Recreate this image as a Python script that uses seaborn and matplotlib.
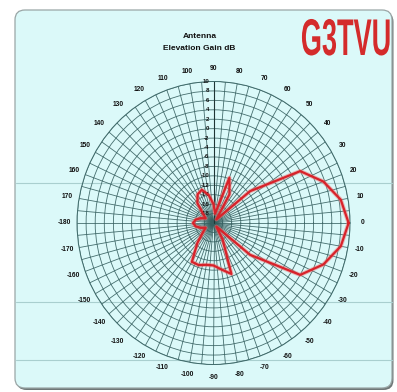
import numpy as np
import pandas as pd
import matplotlib
matplotlib.use("Agg")
import matplotlib.pyplot as plt
import seaborn as sns
from matplotlib.patches import FancyBboxPatch
from matplotlib import patheffects
from matplotlib.transforms import Affine2D
from matplotlib.lines import Line2D

# Elevation angle (deg) and antenna gain (dB)
elevation_deg = [0, 10, 20, 30, 40, 50, 60, 70, 80, 90, 100, 110, 120, 130, 140, 150, 160, 170, 180,
                 -170, -160, -150, -140, -130, -120, -110, -100, -90, -80, -70, -60, -50, -40, -30, -20, -10]
gain_db = [9.7, 8.4, 5.7, 2.0, -9.5, -19.0, -13.0, -9.8, -18.0, -16.0, -14.0, -12.5, -13.0, -14.5, -17.0, -18.0, -17.0, -16.0, -15.5,
           -16.0, -17.0, -18.0, -17.0, -14.5, -10.5, -10.5, -11.0, -11.0, -10.0, -8.5, -16.0, -19.0, -9.5, 2.0, 5.7, 8.4]

# Axis annotations
angle_ticks = list(range(-170, 181, 10))
gain_ticks = list(range(10, -20, -2))
title_lines = ["Antenna", "Elevation Gain dB"]
logo_text = "G3TVU"

W, H = 397, 392
sns.set_style("white")
fig = plt.figure(figsize=(W / 100, H / 100), dpi=100)
fig.patch.set_facecolor("white")


def fx(px):
    return px / W


def fy(py):
    return 1 - py / H


# Rounded panel with a soft shadow
shadow = FancyBboxPatch((fx(16.5), fy(390)), fx(393.5) - fx(16.5), fy(12) - fy(390),
                        boxstyle="round,pad=0,rounding_size=0.025", transform=fig.transFigure,
                        facecolor="#6f7777", edgecolor="none", zorder=-3)
panel = FancyBboxPatch((fx(15), fy(388)), fx(392) - fx(15), fy(10) - fy(388),
                       boxstyle="round,pad=0,rounding_size=0.025", transform=fig.transFigure,
                       facecolor="#dbf9f9", edgecolor="#9aa6a6", linewidth=0.9, zorder=-2)
fig.patches.extend([shadow, panel])

for py in [183, 302, 360]:
    fig.add_artist(Line2D([fx(16), fx(392)], [fy(py), fy(py)], transform=fig.transFigure,
                          color="#a9cfcf", linewidth=0.8, zorder=-1))

# Polar grid (slightly elliptical, as drawn)
cx, cy, rx, ry = 213.5, 223.0, 136.5, 141.5
ax = fig.add_axes([fx(cx - rx), fy(cy + ry), 2 * rx / W, 2 * ry / H], projection="polar")
ax.set_zorder(2)
ax.set_aspect("auto")
ax.set_facecolor("none")
ax.set_ylim(-20, 10)
ax.set_xticks(np.deg2rad(np.arange(0, 360, 5)))
ax.set_xticklabels([])
ax.set_yticks(np.arange(-20, 11, 2))
ax.set_yticklabels([])
ax.grid(True, color="#355f5f", linewidth=0.6, alpha=0.9)
ax.spines["polar"].set_color("#3f6a6a")
ax.spines["polar"].set_linewidth(0.7)
ax.tick_params(length=0, pad=0)
ax.plot([np.pi / 2, np.pi / 2], [-20, 10], color="#1f3535", linewidth=0.8, zorder=2)

df = pd.DataFrame({"theta": np.deg2rad(elevation_deg + elevation_deg[:1]),
                   "gain": gain_db + gain_db[:1]})
sns.lineplot(data=df, x="theta", y="gain", sort=False, estimator=None, ax=ax,
             color="#f07070", linewidth=3.0, alpha=0.5, zorder=3, legend=False)
sns.lineplot(data=df, x="theta", y="gain", sort=False, estimator=None, ax=ax,
             color="#d8222a", linewidth=1.6, zorder=4, legend=False)
ax.set_xlabel("")
ax.set_ylabel("")

label_font = ["Liberation Sans", "DejaVu Sans"]
for a in angle_ticks:
    txt = "-180" if a == 180 else str(a)
    ax.text(np.deg2rad(a), 12.7, txt, ha="center", va="center", fontsize=4.8,
            fontweight="bold", family=label_font, color="#111111", clip_on=False)

for g in gain_ticks:
    ax.annotate(str(g), xy=(np.pi / 2, g), xytext=(-3, 0), textcoords="offset points",
                ha="right", va="center", fontsize=4.3, fontweight="bold",
                family=label_font, color="#111111", annotation_clip=False)

fig.text(fx(200), fy(37), title_lines[0], ha="center", va="center", fontsize=6.0,
         fontweight="bold", family=label_font, color="#111111")
fig.text(fx(199), fy(48), title_lines[1], ha="center", va="center", fontsize=6.0,
         fontweight="bold", family=label_font, color="#111111")


class Stretch(patheffects.AbstractPathEffect):
    """Scale glyphs about an anchor point given in display pixels."""

    def __init__(self, sx, sy, x0, y0):
        super().__init__()
        self.sx, self.sy, self.x0, self.y0 = sx, sy, x0, y0

    def draw_path(self, renderer, gc, tpath, affine, rgbFace=None):
        t = (Affine2D().translate(-self.x0, -self.y0)
             .scale(self.sx, self.sy).translate(self.x0, self.y0))
        renderer.draw_path(gc, tpath, affine + t, rgbFace)


logo_x, logo_base = 346, 55
fig.text(fx(logo_x), fy(logo_base), logo_text, ha="center", va="baseline", fontsize=21,
         fontweight="bold", family=label_font, color="#d42b2b",
         path_effects=[Stretch(0.93, 1.77, logo_x, H - logo_base)])

fig.savefig("out.png", dpi=100, facecolor=fig.get_facecolor())
